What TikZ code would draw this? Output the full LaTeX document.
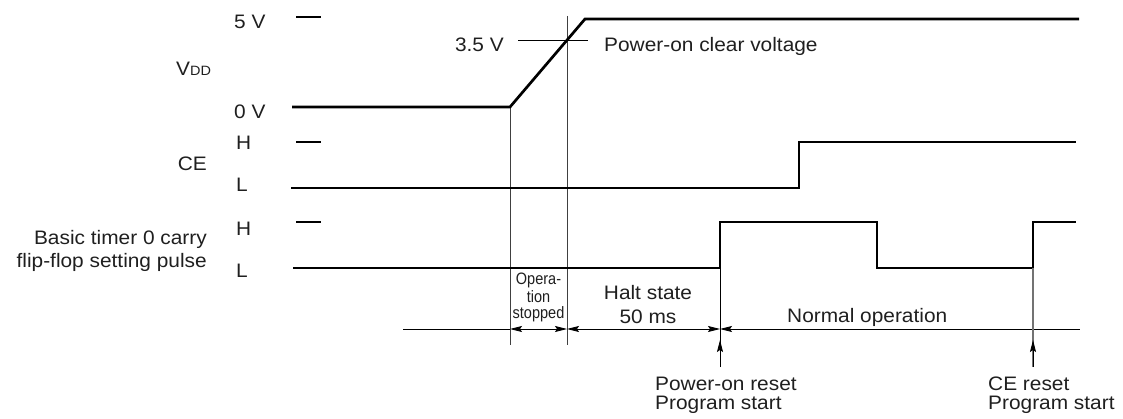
\documentclass[tikz,border=0pt]{standalone}
\usepackage{fontspec}
\setmainfont{Liberation Sans}[FakeStretch=1.07]
\newfontfamily\condfont{Liberation Sans}[FakeStretch=0.88]
\usetikzlibrary{arrows.meta}
\begin{document}
\begin{tikzpicture}[x=1pt,y=-1pt,
  every node/.style={inner sep=0pt,text=black!88,font=\fontsize{19.5}{19.5}\selectfont},
  sig/.style={line width=2.7pt,line join=miter},
  tick/.style={line width=1.3pt},
  thin/.style={line width=0.9pt},
  guide/.style={line width=0.9pt,black!75},
  tip/.style={-{Stealth[length=12pt,width=6pt,inset=2pt]}},
  tips/.style={{Stealth[length=12pt,width=6pt,inset=2pt]}-{Stealth[length=12pt,width=6pt,inset=2pt]}},
  ltip/.style={{Stealth[length=12pt,width=6pt,inset=2pt]}-},
  small/.style={font=\condfont\fontsize{16.5}{16.5}\selectfont}]
\useasboundingbox (0,0) rectangle (1123,419);

% ---------- labels on the left ----------
\node[anchor=base west] (v5) at (234,29) {5 V};
\node[anchor=base west] (v0) at (234,119) {0 V};
\node[anchor=base west] (vdd) at (176,76) {V{\fontsize{13.5}{13.5}\selectfont DD}};
\node[anchor=base west] (ceH) at (236,150) {H};
\node[anchor=base west] (ceL) at (236,192) {L};
\node[anchor=base east] (ce) at (207,171) {CE};
\node[anchor=base west] (btH) at (236,236) {H};
\node[anchor=base west] (btL) at (236,278) {L};
\node[anchor=base east] (bt1) at (207,245) {Basic timer 0 carry};
\node[anchor=base east] (bt2) at (207,268) {flip-flop setting pulse};

% ---------- level ticks ----------
\draw[tick] (296,17) -- (321,17);
\draw[tick] (296,142) -- (321,142);
\draw[tick] (296,222) -- (321,222);

% ---------- key coordinates ----------
\coordinate (a) at (510,107);   % ramp start
\coordinate (b) at (567,40);    % 3.5 V crossing
\coordinate (p) at (720,268);   % power-on reset
\coordinate (q) at (1033,268);  % CE reset

% ---------- guide lines ----------
\draw[guide] (a) -- (510,345);
\draw[guide] (567,16) -- (567,345);
\draw[thin] (518,40) -- (588,40);
\node[anchor=base east] (v35) at (504,52) {3.5 V};
\node[anchor=base west] (poc) at (604,52) {Power-on clear voltage};

% ---------- waveforms ----------
\draw[sig] (292,107) -- (a) -- (585,19) -- (1079,19);
\draw[sig] (291,188) -- (799,188) -- (799,142) -- (1076,142);
\draw[sig] (293,268) -- (p) -- (720,222) -- (877,222) -- (877,268) -- (q) -- (1033,222) -- (1076,222);

% ---------- time axis ----------
\coordinate (d0) at (403,329);
\coordinate (d1) at (510,329);
\coordinate (d2) at (567,329);
\coordinate (d3) at (720,329);
\coordinate (d4) at (1080,329);
\draw[thin] (d0) -- (d1);
\draw[thin,tips] (d1) -- (d2);
\draw[thin,tips] (d2) -- (d3);
\draw[thin,ltip] (d3) -- (d4);

% ---------- reset markers ----------
\draw[thin] (p) -- (720,367);
\draw[thin,tip] (720,367) -- (720,340);
\draw[line width=1.1pt,black!55] (q) -- (1033,367);
\draw[thin,tip] (1033,367) -- (1033,340);

% ---------- interval labels ----------
\node[small,anchor=base] (os1) at (538.5,285) {Opera-};
\node[small,anchor=base] (os2) at (538.5,302) {tion};
\node[small,anchor=base] (os3) at (538.5,318) {stopped};
\node[anchor=base] (hs1) at (648,300) {Halt state};
\node[anchor=base] (hs2) at (648,323) {50 ms};
\node[anchor=base west] (no) at (787,322) {Normal operation};

% ---------- bottom labels ----------
\node[anchor=base west] (pr1) at (655,390) {Power-on reset};
\node[anchor=base west] (pr2) at (655,409) {Program start};
\node[anchor=base west] (cr1) at (988,390) {CE reset};
\node[anchor=base west] (cr2) at (988,409) {Program start};
\end{tikzpicture}
\end{document}
